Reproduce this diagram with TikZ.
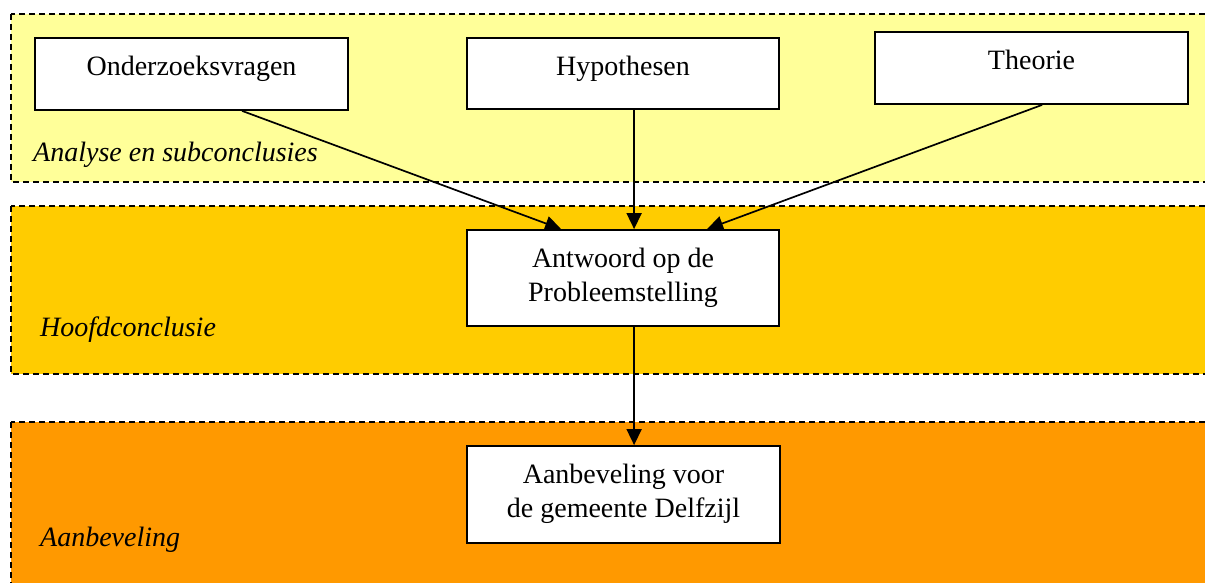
\documentclass[tikz,border=0pt]{standalone}
\usepackage{fontspec}
\setmainfont{Liberation Serif}
\usetikzlibrary{arrows.meta,calc}
\definecolor{bandA}{HTML}{FFFF99}
\definecolor{bandB}{HTML}{FFCC00}
\definecolor{bandC}{HTML}{FF9900}
\tikzset{
  band/.style={draw=black, line width=1.3pt, dash pattern=on 6pt off 4pt},
  box/.style={draw=black, fill=white, line width=1.8pt, rectangle, inner sep=0pt},
  boxtext/.style={anchor=base, align=center, inner sep=0pt, font=\fontsize{28}{34}\selectfont},
  bandlabel/.style={anchor=base west, inner sep=0pt, font=\fontsize{28}{34}\selectfont\itshape},
  conn/.style={line width=1.7pt, -{Triangle[length=16pt,width=15pt]}}
}
\begin{document}
\begin{tikzpicture}[x=1pt,y=-1pt]
\useasboundingbox (0,0) rectangle (1205,583);
% bands
\path[band, fill=bandA] (11,14) rectangle (1220,182);
\path[band, fill=bandB] (11,206) rectangle (1220,374);
\path[band, fill=bandC] (11,422) rectangle (1220,600);
% band labels
\node[bandlabel] (lA) at (33,161) {Analyse en subconclusies};
\node[bandlabel] (lB) at (40,336) {Hoofdconclusie};
\node[bandlabel] (lC) at (40,546) {Aanbeveling};
% boxes
\node[box, minimum width=313pt, minimum height=72pt] (ov) at (191.5,74) {};
\node[box, minimum width=312pt, minimum height=71pt] (hy) at (623,73.5) {};
\node[box, minimum width=313pt, minimum height=72pt] (th) at (1031.5,68) {};
\node[box, minimum width=312pt, minimum height=96pt] (an) at (623,278) {};
\node[box, minimum width=313pt, minimum height=97pt] (ab) at (623.5,494.5) {};
% texts
\node[boxtext] (tov) at ($(ov.north)+(0,38)$) {Onderzoeksvragen};
\node[boxtext] (thy) at ($(hy.north)+(0,38)$) {Hypothesen};
\node[boxtext] (tth) at ($(th.north)+(0,38)$) {Theorie};
\node[boxtext] (tan) at ($(an.north)+(0,72)$) {Antwoord op de\\Probleemstelling};
\node[boxtext] (tab) at ($(ab.north)+(0,72)$) {Aanbeveling voor\\de gemeente Delfzijl};
% connectors
\draw[conn] ($(ov.south west)+(208,0)$) -- ($(an.north west)+(95,0)$);
\draw[conn] ($(hy.south west)+(168,0)$) -- ($(an.north west)+(168,0)$);
\draw[conn] ($(th.south west)+(168,0)$) -- ($(an.north west)+(241,0)$);
\draw[conn] ($(an.south west)+(168,0)$) -- ($(ab.north west)+(168,0)$);
\end{tikzpicture}
\end{document}
